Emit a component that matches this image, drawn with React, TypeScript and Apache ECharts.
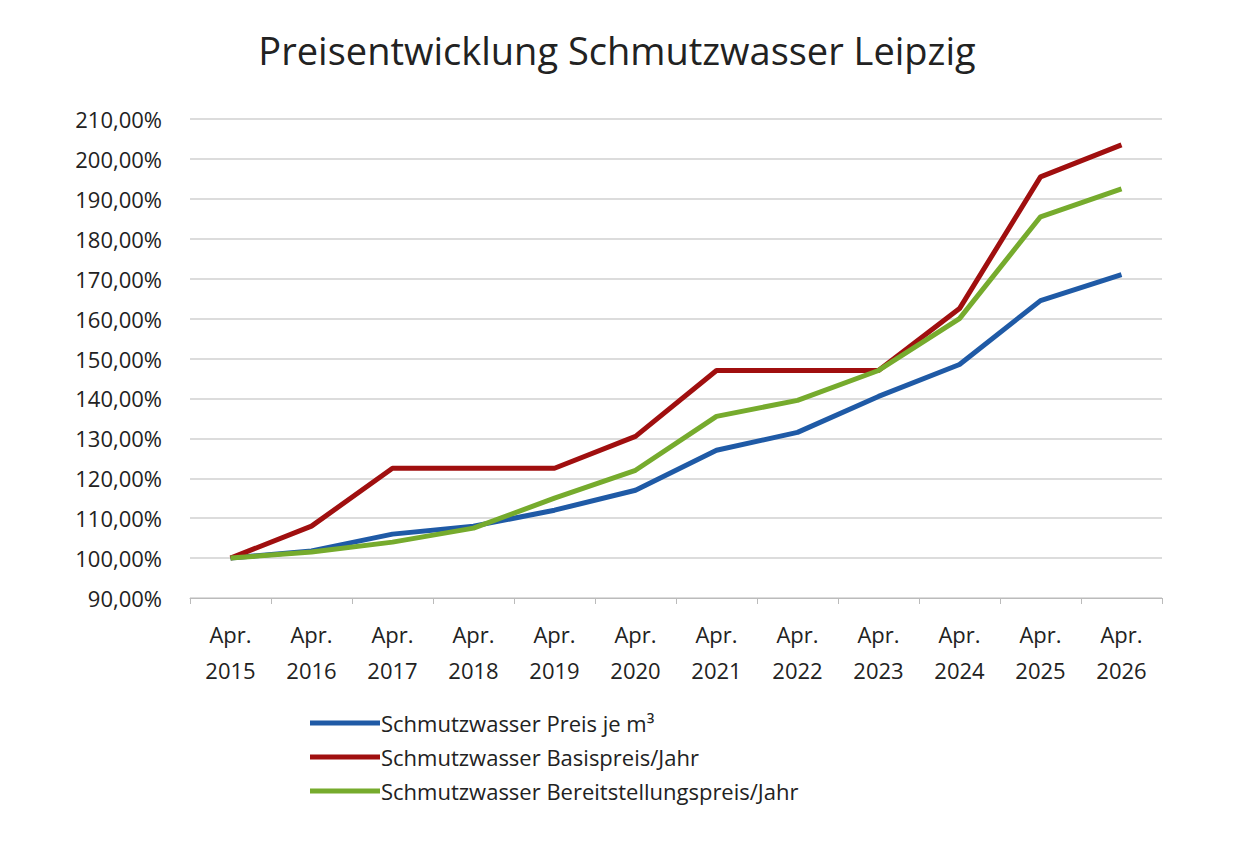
import React, { useEffect, useRef } from 'react';
import * as echarts from 'echarts';

const years = ['2015', '2016', '2017', '2018', '2019', '2020', '2021', '2022', '2023', '2024', '2025', '2026'];
const categories = years.map((y) => `Apr.\n${y}`);
const preisJeM3 = [100, 101.8, 106, 108, 112, 117, 127, 131.5, 140.5, 148.5, 164.5, 171];
const basispreis = [100, 108, 122.5, 122.5, 122.5, 130.5, 147, 147, 147, 162.5, 195.5, 203.5];
const bereitstellung = [100, 101.5, 104, 107.5, 115, 122, 135.5, 139.5, 147, 160, 185.5, 192.5];

const FONT = '"Open Sans", "DejaVu Sans", sans-serif';

export default function App() {
  const ref = useRef<HTMLDivElement>(null);

  useEffect(() => {
    document.body.style.margin = '0';
    if (!ref.current) return;
    const chart = echarts.init(ref.current, undefined, { renderer: 'svg' });
    const line = (name: string, data: number[], color: string) => ({
      name,
      type: 'line',
      data,
      symbol: 'none',
      lineStyle: { color, width: 5 },
      itemStyle: { color },
    });
    chart.setOption({
      animation: false,
      backgroundColor: '#fff',
      textStyle: { fontFamily: FONT },
      title: {
        text: 'Preisentwicklung Schmutzwasser Leipzig',
        left: 'center',
        top: 26,
        textStyle: { fontFamily: FONT, fontSize: 38, fontWeight: 'normal', color: '#222' },
      },
      grid: { left: 190, right: 72, top: 119, bottom: 250 },
      xAxis: {
        type: 'category',
        data: categories,
        boundaryGap: true,
        axisLine: { lineStyle: { color: '#bbb' } },
        axisTick: { show: true, length: 6, lineStyle: { color: '#bbb' } },
        axisLabel: { color: '#222', fontSize: 22, lineHeight: 36, margin: 18, fontFamily: FONT },
      },
      yAxis: {
        type: 'value',
        min: 90,
        max: 210,
        interval: 10,
        axisLine: { show: false },
        axisTick: { show: false },
        splitLine: { lineStyle: { color: '#d0d0d0', width: 1.5 } },
        axisLabel: {
          color: '#222',
          fontSize: 22,
          margin: 28,
          fontFamily: FONT,
          formatter: (v: number) => `${v.toFixed(2).replace('.', ',')}%`,
        },
      },
      legend: {
        orient: 'vertical',
        left: 305,
        top: 707,
        itemGap: 12,
        itemWidth: 70,
        itemHeight: 5,
        icon: 'rect',
        textStyle: { fontSize: 22, color: '#222', fontFamily: FONT, padding: [0, 0, 0, -4] },
      },
      series: [
        line('Schmutzwasser Preis je m³', preisJeM3, '#1f5aa6'),
        line('Schmutzwasser Basispreis/Jahr', basispreis, '#a00f0f'),
        line('Schmutzwasser Bereitstellungspreis/Jahr', bereitstellung, '#76ab2d'),
      ],
    });
    return () => chart.dispose();
  }, []);

  return <div ref={ref} style={{ width: 1234, height: 848 }} />;
}
